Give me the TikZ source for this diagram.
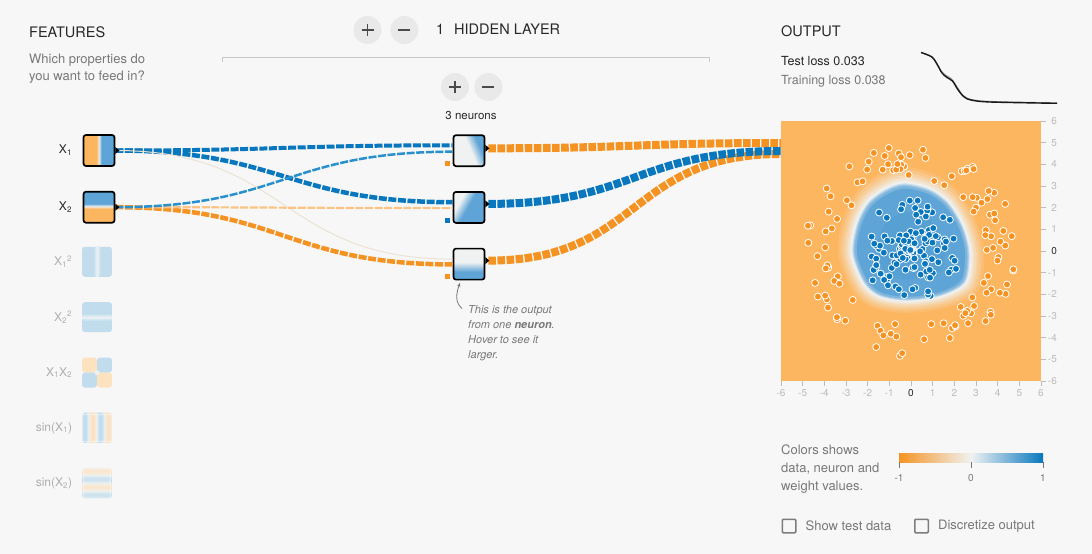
\documentclass[tikz,border=0pt]{standalone}
\usepackage{fontspec}
\setmainfont{TeX Gyre Heros}
\usepackage{tikz}
\usetikzlibrary{positioning, arrows.meta, calc}

\definecolor{bgGray}{RGB}{247,247,247}
\definecolor{linkBlue}{RGB}{8,119,189}
\definecolor{midBlue}{RGB}{40,145,205}
\definecolor{linkOrange}{RGB}{245,147,34}
\definecolor{paleOrange}{RGB}{252,196,132}
\definecolor{faintTan}{RGB}{236,226,212}
\definecolor{heatBlue}{RGB}{94,164,214}
\definecolor{heatOrange}{RGB}{253,182,96}
\definecolor{nearWhite}{RGB}{240,242,242}
\definecolor{fadeBlue}{RGB}{192,220,237}
\definecolor{fadeOrange}{RGB}{253,226,192}
\definecolor{fadeWhite}{RGB}{236,241,243}
\definecolor{textDark}{RGB}{40,40,40}
\definecolor{textGray}{RGB}{120,120,120}
\definecolor{textFaint}{RGB}{175,175,175}
\definecolor{tickGray}{RGB}{188,188,188}
\definecolor{btnGray}{RGB}{233,233,233}
\definecolor{btnInk}{RGB}{75,75,75}
\definecolor{chkGray}{RGB}{125,125,125}
\definecolor{bracketGray}{RGB}{200,200,200}

\pgfdeclarehorizontalshading{signedge}{100bp}{color(0bp)=(heatOrange); color(48.5bp)=(heatOrange); color(50bp)=(nearWhite); color(51.5bp)=(heatBlue); color(100bp)=(heatBlue)}
\pgfdeclarehorizontalshading{reluedge}{100bp}{color(0bp)=(nearWhite); color(47bp)=(nearWhite); color(53bp)=(heatBlue); color(100bp)=(heatBlue)}

\newcommand{\outmark}[2]{\fill[black] ([yshift=#2+3.5pt]#1.east) -- ++(4pt,-3.5pt) -- ++(-4pt,-3.5pt) -- cycle;}
\newcommand{\plusmark}[1]{\draw[line width=1.4pt, btnInk] ([xshift=-6pt]#1.center) -- ([xshift=6pt]#1.center) ([yshift=-6pt]#1.center) -- ([yshift=6pt]#1.center);}
\newcommand{\minusmark}[1]{\draw[line width=1.4pt, btnInk] ([xshift=-6pt]#1.center) -- ([xshift=6pt]#1.center);}
\newcommand{\edgeshade}[4]{\shade[shading=#1, shading angle=#2] ([shift={(#3-40,#4-40)}]path picture bounding box.center) rectangle ++(80,80);}

\begin{document}
\begin{tikzpicture}[x=1pt, y=1pt,
    featon/.style={draw=black, line width=1.7pt, rounded corners=2.5pt, minimum size=31pt, inner sep=0pt},
    featoff/.style={rounded corners=3pt, minimum size=30pt, inner sep=0pt},
    neuron/.style={featon},
    flabel/.style={inner sep=0pt, font=\fontsize{12}{14}\selectfont, textDark},
    foff/.style={inner sep=0pt, font=\fontsize{12}{14}\selectfont, textFaint},
    title/.style={inner sep=0pt, anchor=base west, font=\fontsize{14.5}{17}\selectfont, textDark},
    note/.style={inner sep=0pt, anchor=north west, align=left, textGray},
    btn/.style={circle, fill=btnGray, minimum size=28pt, inner sep=0pt},
    link/.style={dash pattern=on 8pt off 1.6pt},
    wlink/.style={line width=8pt, dash pattern=on 7.6pt off 1.5pt},
    curve/.style={out=0, in=180, looseness=1.25},
    ticklabel/.style={inner sep=0pt, font=\fontsize{10}{12}\selectfont},
    chkbox/.style={draw=chkGray, line width=1.5pt, rounded corners=1pt, minimum size=13.5pt, inner sep=0pt},
    dotO/.style={fill=linkOrange, draw=white, line width=0.8pt},
    dotB/.style={fill=linkBlue, draw=white, line width=0.8pt}
  ]
  \useasboundingbox (0,0) rectangle (1092,-554);
  \fill[bgGray] (0,0) rectangle (1092,-554);

  % headers
  \node[title] (feattitle) at (29,-37) {FEATURES};
  \node[note, font=\fontsize{13}{17}\selectfont] (featnote) at (29,-54) {Which properties do\\you want to feed in?};
  \node[btn] (layerplus) at (367.5,-30) {};
  \node[btn, right=8.5pt of layerplus] (layerminus) {};
  \node[title] (layercount) at (436,-34.5) {1};
  \node[title] (layertitle) at (454,-34.5) {HIDDEN LAYER};
  \draw[bracketGray] (222,-62) -- (222,-57.5) -- (709,-57.5) -- (709,-62);
  \node[btn] (neuronplus) at (455,-87) {};
  \node[btn, right=5pt of neuronplus] (neuronminus) {};
  \node[inner sep=0pt, anchor=base, font=\fontsize{11.5}{14}\selectfont, textDark] (neuroncount) at (471,-119) {3 neurons};
  \plusmark{layerplus}
  \minusmark{layerminus}
  \plusmark{neuronplus}
  \minusmark{neuronminus}

  % input features
  \node[featon, path picture={\edgeshade{signedge}{0}{0}{0}}] (x1) at (99,-150.5) {};
  \node[featon, below=24pt of x1, path picture={\edgeshade{signedge}{90}{0}{1}}] (x2) {};
  \node[featoff, below=23pt of x2, xshift=-2pt, path picture={
      \fill[fadeBlue] (path picture bounding box.south west) rectangle (path picture bounding box.north east);
      \shade[left color=fadeBlue, right color=fadeBlue, middle color=fadeWhite] ([xshift=-4pt]path picture bounding box.south) rectangle ([xshift=4pt]path picture bounding box.north);
    }] (x1sq) {};
  \node[featoff, below=25pt of x1sq, path picture={
      \fill[fadeBlue] (path picture bounding box.south west) rectangle (path picture bounding box.north east);
      \shade[top color=fadeBlue, bottom color=fadeBlue, middle color=fadeWhite] ([yshift=-4pt]path picture bounding box.west) rectangle ([yshift=4pt]path picture bounding box.east);
    }] (x2sq) {};
  \node[featoff, below=25pt of x2sq, path picture={
      \fill[fadeOrange] (path picture bounding box.center) rectangle (path picture bounding box.north west);
      \fill[fadeBlue] (path picture bounding box.center) rectangle (path picture bounding box.north east);
      \fill[fadeBlue] (path picture bounding box.center) rectangle (path picture bounding box.south west);
      \fill[fadeOrange] (path picture bounding box.center) rectangle (path picture bounding box.south east);
      \fill[fadeWhite] (path picture bounding box.center) circle[radius=2.5pt];
    }] (x1x2) {};
  \node[featoff, below=25pt of x1x2, path picture={
      \foreach \k in {0,...,29}{
        \pgfmathsetmacro\v{sin(deg(-6+0.4*\k+0.2))}
        \pgfmathtruncatemacro\p{100*abs(\v)}
        \ifdim\v pt>0pt \def\hue{fadeBlue}\else\def\hue{fadeOrange}\fi
        \fill[\hue!\p!fadeWhite] ([xshift=\k]path picture bounding box.south west) rectangle ([xshift=\k+1.1]path picture bounding box.north west);
      }
    }] (sinx1) {};
  \node[featoff, below=25pt of sinx1, path picture={
      \foreach \k in {0,...,29}{
        \pgfmathsetmacro\v{sin(deg(-6+0.4*\k+0.2))}
        \pgfmathtruncatemacro\p{100*abs(\v)}
        \ifdim\v pt>0pt \def\hue{fadeBlue}\else\def\hue{fadeOrange}\fi
        \fill[\hue!\p!fadeWhite] ([yshift=\k]path picture bounding box.south west) rectangle ([yshift=\k+1.1]path picture bounding box.south east);
      }
    }] (sinx2) {};

  \node[flabel, left=10.5pt of x1] (x1lab) {X\textsubscript{1}};
  \node[flabel, left=10.5pt of x2] (x2lab) {X\textsubscript{2}};
  \node[foff, left=9.5pt of x1sq] (x1sqlab) {X\textsubscript{1}\textsuperscript{2}};
  \node[foff, left=9.5pt of x2sq] (x2sqlab) {X\textsubscript{2}\textsuperscript{2}};
  \node[foff, left=9.5pt of x1x2] (x1x2lab) {X\textsubscript{1}X\textsubscript{2}};
  \node[foff, left=9.5pt of sinx1] (sinx1lab) {sin(X\textsubscript{1})};
  \node[foff, left=9.5pt of sinx2] (sinx2lab) {sin(X\textsubscript{2})};

  % hidden layer
  \node[neuron, path picture={\edgeshade{reluedge}{23}{7}{0}}] (h1) at (469,-150.7) {};
  \node[neuron, below=24pt of h1, path picture={\edgeshade{reluedge}{-30}{-5.5}{2.5}}] (h2) {};
  \node[neuron, below=24pt of h2, path picture={\edgeshade{reluedge}{-90}{0}{-3}}] (h3) {};
  \fill[linkOrange] ([shift={(-8pt,1pt)}]h1.south west) rectangle ++(5,5);
  \fill[linkBlue] ([shift={(-8pt,1pt)}]h2.south west) rectangle ++(5,5);
  \fill[linkOrange] ([shift={(-8pt,1pt)}]h3.south west) rectangle ++(5,5);

  % weights input -> hidden
  \draw[link, linkBlue, line width=4pt] (x1.east) to[curve] ([yshift=5.4pt]h1.west);
  \draw[link, linkBlue, line width=4.5pt] (x1.east) to[curve] ([yshift=5.2pt]h2.west);
  \draw[faintTan, line width=1pt] (x1.east) to[curve] ([yshift=5pt]h3.west);
  \draw[link, linkOrange, line width=4.5pt] (x2.east) to[curve] ([yshift=-0.3pt]h3.west);
  \draw[link, paleOrange, line width=2.2pt] (x2.east) to[curve] ([yshift=-0.7pt]h2.west);
  \draw[link, midBlue, line width=2.5pt] (x2.east) to[curve] ([yshift=-1pt]h1.west);

  % weights hidden -> output
  \coordinate (heatin) at (781,-148);
  \draw[wlink, linkOrange] ([shift={(3pt,2.4pt)}]h1.east) to[curve] ([yshift=5pt]heatin);
  \draw[wlink, linkOrange] ([shift={(3pt,3.5pt)}]h3.east) to[curve] ([yshift=-6pt]heatin);
  \draw[wlink, linkBlue] ([shift={(3pt,3.5pt)}]h2.east) to[curve] ([yshift=-3pt]heatin);

  \outmark{x1}{0pt}
  \outmark{x2}{0pt}
  \outmark{h1}{2.4pt}
  \outmark{h2}{3.5pt}
  \outmark{h3}{3.5pt}

  % hint
  \node[note, font=\fontsize{11}{14.8}\selectfont\itshape] (hint) at (468,-305.5) {This is the output\\from one \textbf{neuron}.\\Hover to see it\\larger.};
  \draw[textGray, line width=0.8pt, -{Stealth[length=4pt, width=3.5pt]}] ([shift={(-6pt,-3pt)}]hint.north west) to[out=140, in=-110] ([shift={(-9pt,-2.5pt)}]h3.south);

  % output
  \node[title] (outtitle) at (781,-36.7) {OUTPUT};
  \node[inner sep=0pt, anchor=base west, font=\fontsize{12.5}{14}\selectfont, textDark] (testloss) at (781,-65) {Test loss 0.033};
  \node[inner sep=0pt, anchor=base west, font=\fontsize{12.5}{14}\selectfont, textGray] (trainloss) at (781,-84.5) {Training loss 0.038};
  \draw[gray!80, line width=1.2pt] plot[smooth] coordinates {(921,-52.5) (931,-56.5) (936.5,-63) (941,-71) (946,-75.5) (951.5,-79) (957,-87) (963,-95.5) (971,-99.5) (990,-101.5) (1057,-103)};
  \draw[black!90, line width=1.4pt] plot[smooth] coordinates {(921,-52.5) (932,-57) (937.5,-65) (942,-73) (947,-77.5) (952.5,-81) (957.5,-89) (963.5,-96.5) (971,-100) (990,-102) (1057,-103.3)};

  \begin{scope}[shift={(911,-251)}, x=21.667pt, y=21.667pt]
    \begin{scope}
      \clip (-6,-6) rectangle (6,6);
      \fill[heatOrange] (-6,-6) rectangle (6,6);
      \foreach \s/\c in {1.30/heatOrange!88!nearWhite, 1.25/heatOrange!72!nearWhite, 1.20/heatOrange!56!nearWhite,
          1.16/heatOrange!40!nearWhite, 1.12/heatOrange!24!nearWhite, 1.09/heatOrange!10!nearWhite,
          1.065/nearWhite, 1.04/heatBlue!30!nearWhite, 1.02/heatBlue!55!nearWhite, 1.00/heatBlue!78!nearWhite,
          0.96/heatBlue, 0.6/heatBlue!92!linkBlue}
        \fill[\c, scale=\s] plot[smooth cycle] coordinates {(-0.3,3.0) (0.8,2.75) (1.65,2.15) (2.3,1.1) (2.6,-0.1) (2.4,-1.4) (1.3,-2.0) (-0.2,-2.2) (-1.4,-2.0) (-2.1,-1.4) (-2.6,-0.1) (-2.4,1.2) (-1.9,2.15) (-1.1,2.75)};
      \pgfmathsetseed{2718}
      \foreach \i in {1,...,120}{
        \pgfmathsetmacro\rr{3.4+1.5*rnd}
        \pgfmathsetmacro\aa{360*rnd}
        \filldraw[dotO] (\aa:\rr) circle[radius=3.5pt];
      }
      \foreach \i in {1,...,150}{
        \pgfmathsetmacro\rr{2.35*rnd}
        \pgfmathsetmacro\aa{360*rnd}
        \filldraw[dotB] (\aa:\rr) circle[radius=3.5pt];
      }
    \end{scope}
    \foreach \v in {-6,...,6}{
      \ifnum\v=0 \def\tc{textDark}\else\def\tc{tickGray}\fi
      \draw[tickGray] (6,\v) -- ++(4.5pt,0);
      \node[ticklabel, \tc, anchor=east] (yt\v) at ([xshift=16pt]6,\v) {\v};
      \draw[tickGray] (\v,-6) -- ++(0,-4.5pt);
      \node[ticklabel, \tc, anchor=base] (xt\v) at ([yshift=-15.5pt]\v,-6) {\v};
    }
  \end{scope}

  % colour legend
  \node[note, font=\fontsize{13}{17.7}\selectfont] (legendnote) at (781,-445) {Colors shows\\data, neuron and\\weight values.};
  \shade[left color=linkOrange, right color=linkBlue, middle color=nearWhite] (899,-453) rectangle (1043,-462);
  \foreach \t/\xx in {-1/899, 0/971, 1/1043}{
    \draw[textGray] (\xx,-462) -- (\xx,-468);
    \node[ticklabel, textGray, anchor=base] (cb\t) at (\xx,-481.7) {\t};
  }

  % checkboxes
  \node[chkbox] (showtest) at (789,-526) {};
  \node[inner sep=0pt, anchor=west, font=\fontsize{13}{15}\selectfont, textGray, right=9pt of showtest] (showtestlab) {Show test data};
  \node[chkbox] (discrete) at (921.5,-526) {};
  \node[inner sep=0pt, anchor=west, font=\fontsize{13}{15}\selectfont, textGray, right=9pt of discrete] (discretelab) {Discretize output};
\end{tikzpicture}
\end{document}
